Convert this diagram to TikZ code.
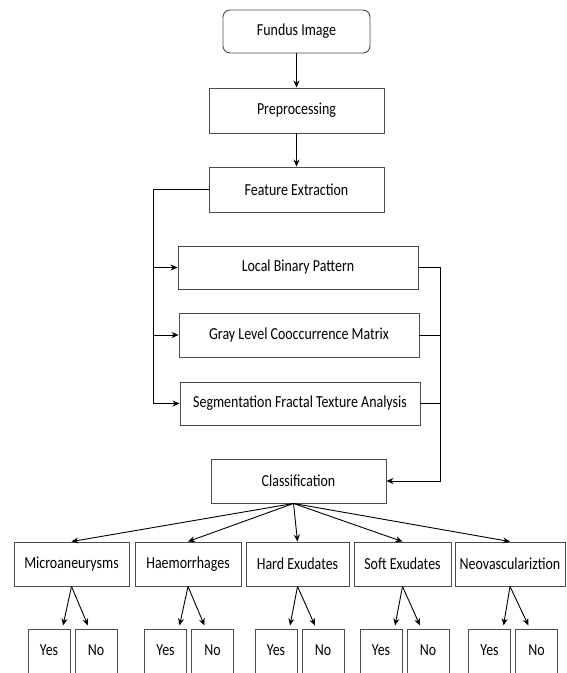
\documentclass[tikz,border=0pt]{standalone}
\usepackage{fontspec}
\setmainfont{Carlito}[FakeStretch=0.83]
\usetikzlibrary{arrows.meta,positioning}
\tikzset
{
    block/.style     = {draw=black!70, line width=0.9pt, align=center, minimum height=44pt, inner sep=2pt},
    roundblock/.style = {block, rounded corners=7pt},
    answer/.style    = {draw=black!70, line width=0.9pt, minimum width=42pt, minimum height=60pt, inner sep=0pt},
    answertext/.style = {text depth=0pt, yshift=10pt}
}

\begin{document}
\begin{tikzpicture}[->,>={Stealth[length=7pt,width=6pt]}, x=1pt, y=-1pt, line width=0.9pt, font=\fontsize{16.8}{19}\selectfont]
    \useasboundingbox (0,0) rectangle (566,673);
    \clip (0,0) rectangle (566,673);

    % main flow
    \node [roundblock, minimum width=147pt, minimum height=43pt] (fundus) at (296.5,31.5) {Fundus Image};
    \node [block, minimum width=175pt, minimum height=45pt] (pre) at (296.5,110.5) {Preprocessing};
    \node [block, minimum width=175pt, minimum height=45pt] (feat) at (296.5,189.5) {Feature Extraction};

    % feature methods
    \node [block, minimum width=240pt, minimum height=43pt] (lbp) at (298,267.5) {Local Binary Pattern};
    \node [block, minimum width=240pt] (glcm) at (299,335) {Gray Level Cooccurrence Matrix};
    \node [block, minimum width=240pt, minimum height=43pt] (sfta) at (300,403.5) {Segmentation Fractal Texture Analysis};

    \node [block, minimum width=175pt] (class) at (298.5,481) {Classification};

    % lesion classes
    \node [block, minimum width=115pt] (micro) at (71.5,564) {Microaneurysms};
    \node [block, minimum width=106pt] (haem) at (188,564) {Haemorrhages};
    \node [block, minimum width=103pt] (hard) at (297.5,564) {Hard Exudates};
    \node [block, minimum width=97pt] (soft) at (402.5,564) {Soft Exudates};
    \node [block, minimum width=110pt] (neo) at (510,564) {Neovasculariztion};

    % yes / no leaves
    \foreach \n/\s in {micro/-1, haem/-1, hard/0, soft/0, neo/1}
    {
        \node [answer, anchor=north east] (\n yes) at ([xshift=\s pt, yshift=-43pt]\n.south) {};
        \node [answer, right=4pt of \n yes] (\n no) {};
        \node [answertext] at (\n yes) {Yes};
        \node [answertext] at (\n no) {No};
        \draw (\n.south) -- ([xshift=14pt, yshift=4pt]\n yes.north);
        \draw (\n.south) -- ([xshift=-8pt, yshift=4pt]\n no.north);
    }

    \draw (fundus) -- (pre);
    \draw (pre) -- (feat);

    % buses left and right
    \coordinate (lbus) at (153,0);
    \coordinate (rbus) at (440,0);
    \draw (feat.west) -| (lbus |- sfta.west) -- (sfta.west);
    \draw (lbus |- lbp.west) -- (lbp.west);
    \draw (lbus |- glcm.west) -- (glcm.west);
    \draw (lbp.east) -| (rbus |- class.east) -- (class.east);
    \draw [-] (glcm.east) -- (rbus |- glcm.east);
    \draw [-] (sfta.east) -- (rbus |- sfta.east);

    % classification to classes
    \coordinate (csrc) at ([xshift=-5pt]class.south);
    \foreach \n in {micro, haem, hard, soft, neo}
        \draw (csrc) -- (\n.north);
\end{tikzpicture}
\end{document}
